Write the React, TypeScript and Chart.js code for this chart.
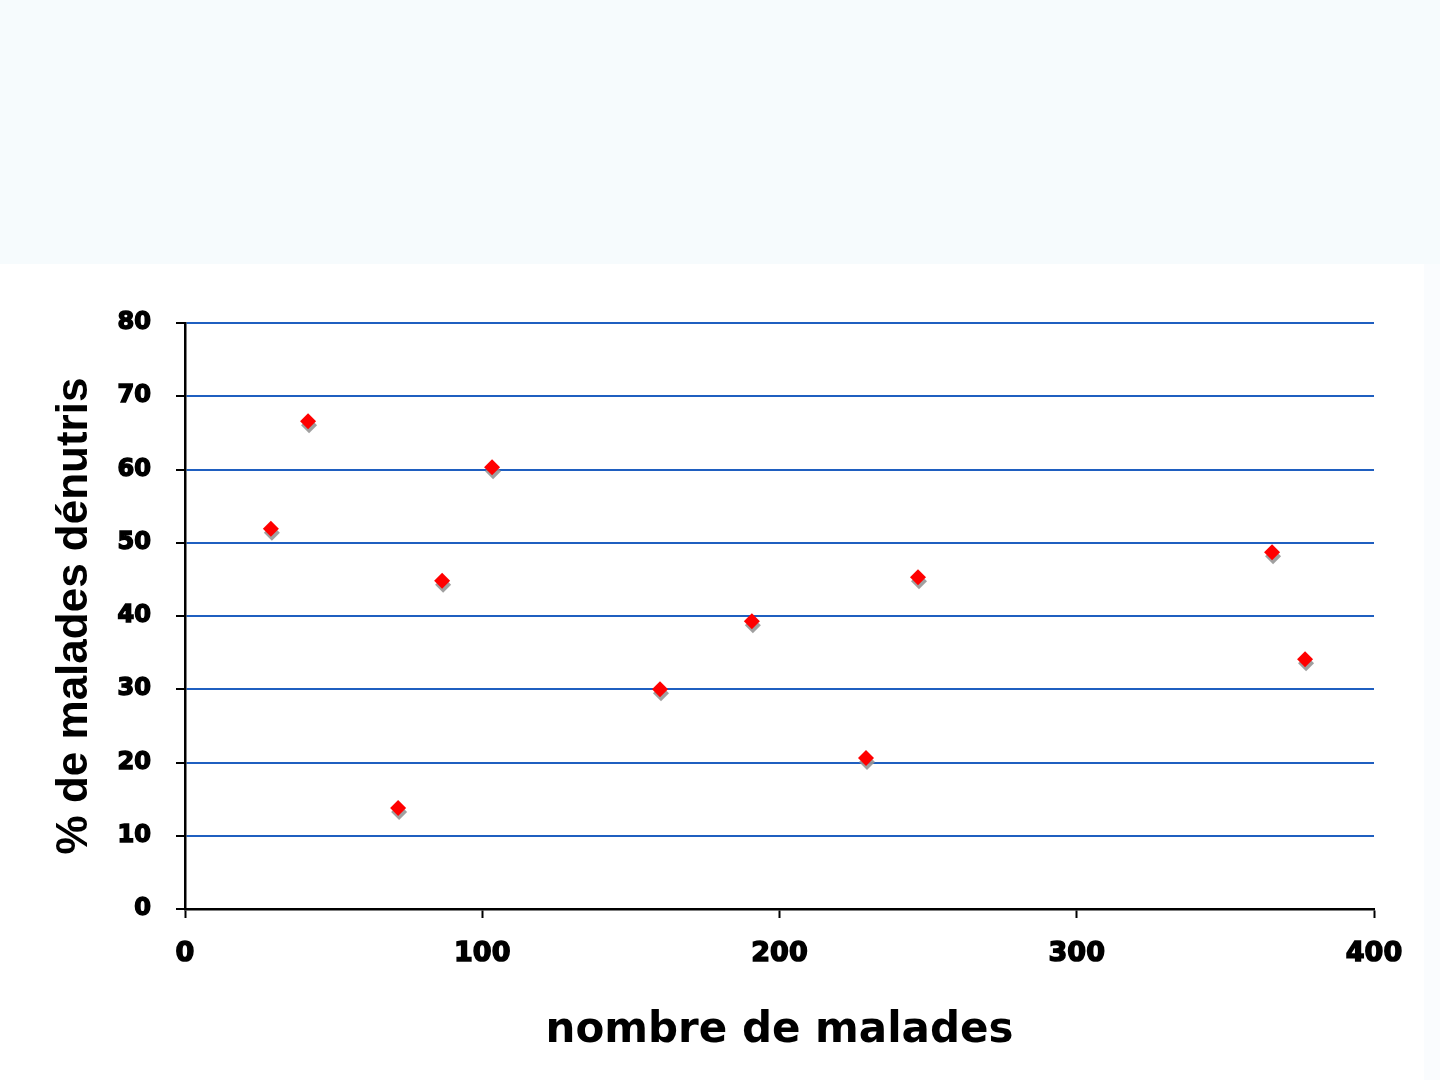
import React, { useEffect, useRef } from "react";
import { Chart, registerables } from "chart.js";

Chart.register(...registerables);

// Data
const patientCounts: number[] = [28.9, 41.4, 71.7, 86.5, 103.3, 159.8, 190.7, 229.1, 246.6, 365.7, 376.8];
const malnutritionPct: number[] = [51.9, 66.6, 13.8, 44.8, 60.3, 30.0, 39.3, 20.6, 45.3, 48.7, 34.1];
const xTitle = "nombre de malades";
const yTitle = "% de malades dénutris";
const xRange = { min: 0, max: 400, step: 100 };
const yRange = { min: 0, max: 80, step: 10 };

const GRID_BLUE = "#1f5fc0";

const shadowPlugin = {
  id: "pointShadow",
  beforeDatasetsDraw(chart: any) {
    const ctx = chart.ctx;
    ctx.save();
    ctx.shadowColor = "rgba(150,150,150,0.9)";
    ctx.shadowOffsetX = 1;
    ctx.shadowOffsetY = 4;
    ctx.shadowBlur = 0.5;
  },
  afterDatasetsDraw(chart: any) {
    chart.ctx.restore();
  },
};

export default function App() {
  const canvasRef = useRef<HTMLCanvasElement | null>(null);

  useEffect(() => {
    if (!canvasRef.current) return;
    const points = patientCounts.map((x, i) => ({ x, y: malnutritionPct[i] }));
    const chart = new Chart(canvasRef.current, {
      type: "scatter",
      data: {
        datasets: [
          {
            data: points,
            backgroundColor: "#ff0000",
            borderColor: "#ff0000",
            borderWidth: 0,
            pointStyle: "rectRot",
            pointRadius: 8,
          },
        ],
      },
      plugins: [shadowPlugin],
      options: {
        animation: false,
        responsive: false,
        devicePixelRatio: 1,
        layout: { padding: { left: 0, right: 66, top: 323, bottom: 0 } },
        plugins: { legend: { display: false }, tooltip: { enabled: false } },
        scales: {
          x: {
            type: "linear",
            position: "bottom",
            min: xRange.min,
            max: xRange.max,
            ticks: {
              stepSize: xRange.step,
              color: "#000",
              padding: 20,
              textStrokeColor: "#000",
              textStrokeWidth: 1.5,
              font: { family: "'DejaVu Sans'", weight: "bold", size: 27 },
            },
            grid: {
              drawOnChartArea: false,
              drawTicks: true,
              tickLength: 9,
              tickColor: "#000",
              tickWidth: 2,
            },
            border: { color: "#000", width: 2.5 },
            title: {
              display: true,
              text: xTitle,
              color: "#000",
              font: { family: "'DejaVu Sans'", weight: "bold", size: 42 },
              padding: { top: 0, bottom: 24 },
            },
            afterFit: (scale: any) => {
              scale.height = 171;
            },
          },
          y: {
            type: "linear",
            position: "left",
            min: yRange.min,
            max: yRange.max,
            ticks: {
              stepSize: yRange.step,
              color: "#000",
              padding: 25,
              textStrokeColor: "#000",
              textStrokeWidth: 1.5,
              font: { family: "'DejaVu Sans'", weight: "bold", size: 24 },
            },
            grid: {
              color: (c: any) => (c.tick && c.tick.value === 0 ? "rgba(0,0,0,0)" : GRID_BLUE),
              lineWidth: 2,
              drawTicks: true,
              tickLength: 9,
              tickColor: "#000",
              tickWidth: 2,
            },
            border: { color: "#000", width: 2.5 },
            title: {
              display: true,
              text: yTitle,
              color: "#000",
              font: { family: "'Liberation Sans'", weight: "bold", size: 44 },
              padding: { top: 48, bottom: 0 },
            },
            afterFit: (scale: any) => {
              scale.width = 185;
            },
          },
        },
      },
    } as any);
    return () => chart.destroy();
  }, []);

  return (
    <div style={{ position: "absolute", left: 0, top: 0, width: 1440, height: 1080, background: "#ffffff", overflow: "hidden" }}>
      <div style={{ position: "absolute", left: 0, top: 0, width: 1440, height: 264, background: "#f6fbfd" }} />
      <div style={{ position: "absolute", left: 1424, top: 264, width: 16, height: 816, background: "#fafcfe" }} />
      <canvas
        ref={canvasRef}
        width={1440}
        height={1080}
        style={{ position: "absolute", left: 0, top: 0, width: 1440, height: 1080 }}
      />
    </div>
  );
}
